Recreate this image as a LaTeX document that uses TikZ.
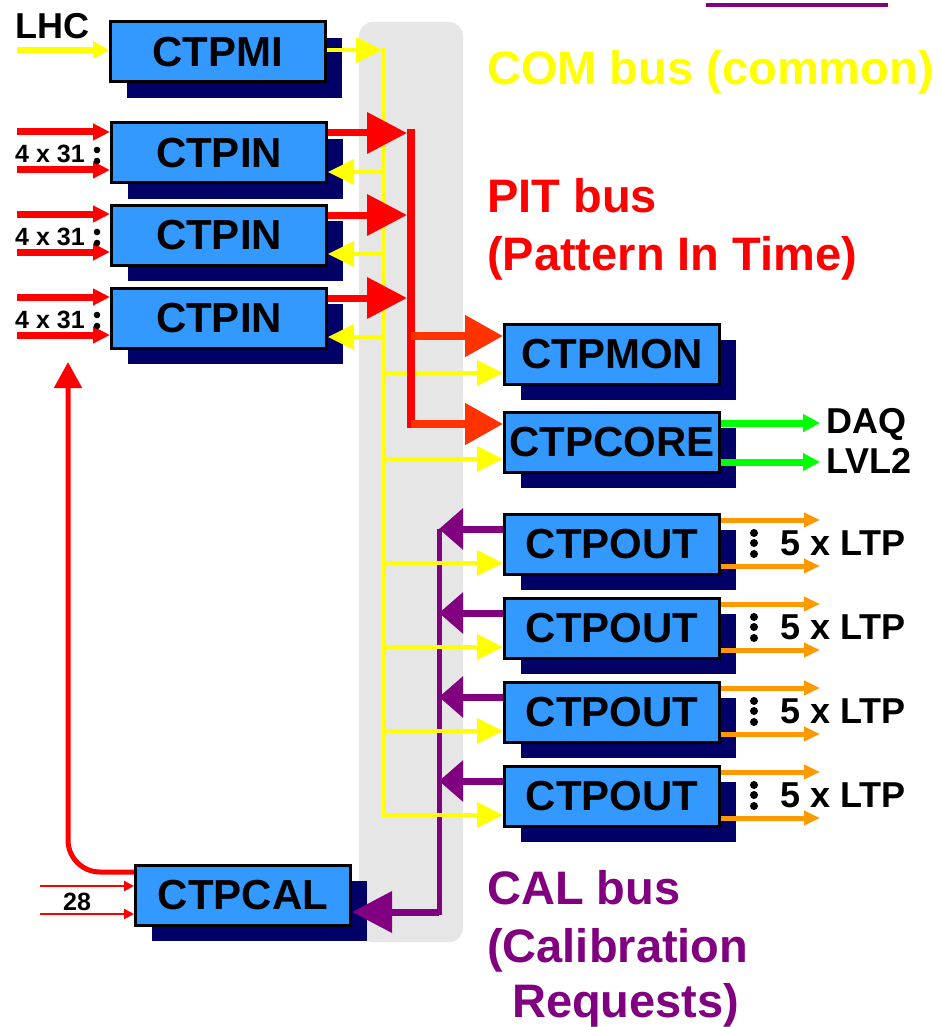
\documentclass[tikz,border=0pt]{standalone}
\usepackage{fontspec}
\setmainfont{Liberation Sans}
\usetikzlibrary{arrows.meta,shadows}

\definecolor{busgray}{HTML}{E6E6E6}
\definecolor{boxblue}{HTML}{3399FF}
\definecolor{shadenavy}{HTML}{000066}
\definecolor{comyellow}{HTML}{FFFF00}
\definecolor{pitred}{HTML}{FF0000}
\definecolor{feedred}{HTML}{FF3300}
\definecolor{calpurple}{HTML}{800080}
\definecolor{daqgreen}{HTML}{00FF00}
\definecolor{ltporange}{HTML}{FF9900}

\tikzset{
  unit/.style={draw=black, line width=3pt, fill=boxblue,
    minimum width=215pt, minimum height=60pt, inner sep=0pt,
    font=\fontsize{42}{42}\selectfont\bfseries,
    general shadow={fill=shadenavy, shadow xshift=16pt, shadow yshift=-16pt}},
  tag/.style={inner sep=0pt, anchor=base west, font=\fontsize{36}{36}\selectfont\bfseries},
  smalltag/.style={inner sep=0pt, anchor=base west, font=\fontsize{25}{25}\selectfont\bfseries},
  buslabel/.style={inner sep=0pt, anchor=base west, font=\fontsize{47}{47}\selectfont\bfseries},
  combus/.style={comyellow, line width=4pt},
  comlink/.style={comyellow, line width=4pt, -{Triangle[length=26pt,width=25pt]}},
  lhcin/.style={comyellow, line width=6pt, -{Triangle[length=16pt,width=17pt]}},
  pitin/.style={pitred, line width=7pt, -{Triangle[length=17pt,width=16pt]}},
  pitout/.style={pitred, line width=7pt, -{Triangle[length=40pt,width=40pt]}},
  pitbus/.style={pitred, line width=8pt},
  pitfeed/.style={feedred, line width=8pt, -{Triangle[length=38pt,width=40pt]}},
  calbus/.style={calpurple, line width=5pt},
  callink/.style={calpurple, line width=7pt, -{Triangle[length=24pt,width=40pt]}},
  calfeed/.style={calpurple, line width=7pt, -{Triangle[length=40pt,width=40pt]}},
  calin/.style={pitred, line width=2.5pt, -{Triangle[length=10pt,width=10pt]}},
  calret/.style={pitred, line width=5pt, rounded corners=32pt, -{Triangle[length=26pt,width=27pt]}},
  daqout/.style={daqgreen, line width=7pt, -{Triangle[length=17pt,width=17pt]}},
  ltpout/.style={ltporange, line width=5pt, -{Triangle[length=16pt,width=14pt]}},
}

\begin{document}
\begin{tikzpicture}[x=1pt,y=-1pt]
\useasboundingbox (0,0) rectangle (941,1027);
\fill[white] (0,0) rectangle (941,1027);

% backplane band carrying the buses
\fill[busgray, rounded corners=14pt] (359,22) rectangle (463,942);
\draw[calpurple, line width=4pt] (706,5) -- (888,5);

% boards
\node[unit] (ctpmi)   at (218,52)  {CTPMI};
\node[unit] (ctpin1)  at (219,153) {CTPIN};
\node[unit] (ctpin2)  at (219,235) {CTPIN};
\node[unit] (ctpin3)  at (219,318) {CTPIN};
\node[unit] (ctpmon)  at (612,354) {CTPMON};
\node[unit] (ctpcore) at (612,442) {CTPCORE};
\node[unit] (ctpout1) at (612,544) {CTPOUT};
\node[unit] (ctpout2) at (612,628) {CTPOUT};
\node[unit] (ctpout3) at (612,712) {CTPOUT};
\node[unit] (ctpout4) at (612,796) {CTPOUT};
\node[unit] (ctpcal)  at (243,895) {CTPCAL};

% reference positions of buses and free ends
\coordinate (inx)    at (17,0);
\coordinate (lblx)   at (15,0);
\coordinate (calinx) at (40,0);
\coordinate (ybus)   at (384,0);
\coordinate (ytip)   at (382,0);
\coordinate (pitx)   at (411,0);
\coordinate (pittip) at (407,0);
\coordinate (pbus)   at (439,0);
\coordinate (outx)   at (820,0);
\coordinate (retend) at (68,362);

% attachment points
\foreach \i in {1,2,3} {
  \coordinate (inA\i) at ([yshift=21pt]ctpin\i.west);
  \coordinate (inB\i) at ([yshift=-17pt]ctpin\i.west);
  \coordinate (pit\i) at ([yshift=20pt]ctpin\i.east);
  \coordinate (com\i) at ([yshift=-19pt]ctpin\i.east);
}
\foreach \i in {1,...,4} {
  \coordinate (req\i)  at ([yshift=15pt]ctpout\i.west);
  \coordinate (cin\i)  at ([yshift=-19pt]ctpout\i.west);
  \coordinate (ltpA\i) at ([yshift=24pt]ctpout\i.east);
  \coordinate (ltpB\i) at ([yshift=-22pt]ctpout\i.east);
}
\coordinate (lhc)   at ([yshift=2pt]ctpmi.west);
\coordinate (miout) at ([yshift=2pt]ctpmi.east);
\coordinate (monP)  at ([yshift=18pt]ctpmon.west);
\coordinate (monC)  at ([yshift=-19pt]ctpmon.west);
\coordinate (corP)  at ([yshift=18pt]ctpcore.west);
\coordinate (corC)  at ([yshift=-17pt]ctpcore.west);
\coordinate (daq)   at ([yshift=19pt]ctpcore.east);
\coordinate (lvl)   at ([yshift=-20pt]ctpcore.east);
\coordinate (calA)  at ([yshift=9pt]ctpcal.west);
\coordinate (calB)  at ([yshift=-19pt]ctpcal.west);
\coordinate (calR)  at ([yshift=-17pt]ctpcal.east);
\coordinate (ret)   at ([yshift=23pt]ctpcal.west);

% CAL bus (calibration requests)
\draw[calbus] (req1 -| pbus) -- ([yshift=-3pt]calR -| pbus);
\foreach \i in {1,...,4}
  \draw[callink] (req\i) -- (req\i -| pbus);
\draw[calfeed] (calR -| pbus) -- (calR);

% COM bus (common)
\draw[lhcin] (lhc -| inx) -- (lhc);
\draw[combus] ([yshift=2pt]miout -| ybus) -- ([yshift=-2pt]cin4 -| ybus);
\draw[comlink] (miout) -- (miout -| ytip);
\foreach \i in {1,2,3}
  \draw[comlink] (com\i -| ybus) -- (com\i);
\draw[comlink] (monC -| ybus) -- (monC);
\draw[comlink] (corC -| ybus) -- (corC);
\foreach \i in {1,...,4}
  \draw[comlink] (cin\i -| ybus) -- (cin\i);

% PIT bus (pattern in time)
\draw[pitbus] ([yshift=4pt]pit1 -| pitx) -- ([yshift=-4pt]corP -| pitx);
\foreach \i in {1,2,3} {
  \draw[pitin] (inA\i -| inx) -- (inA\i);
  \draw[pitin] (inB\i -| inx) -- (inB\i);
  \draw[pitout] (pit\i) -- (pit\i -| pittip);
  \node[smalltag, yshift=-10pt] at (ctpin\i.west -| lblx) {4 x 31};
  \fill ([xshift=-13pt,yshift=3pt]ctpin\i.west) circle (3.3pt);
  \fill ([xshift=-13pt,yshift=-8pt]ctpin\i.west) circle (3.3pt);
}
\draw[pitfeed] (monP -| pitx) -- (monP);
\draw[pitfeed] (corP -| pitx) -- (corP);

% outputs
\draw[daqout] (daq) -- (daq -| outx);
\draw[daqout] (lvl) -- (lvl -| outx);
\node[tag] at ([xshift=6pt,yshift=-10pt]daq -| outx) {DAQ};
\node[tag] at ([xshift=6pt,yshift=-11pt]lvl -| outx) {LVL2};
\foreach \i in {1,...,4} {
  \draw[ltpout] (ltpA\i) -- (ltpA\i -| outx);
  \draw[ltpout] (ltpB\i) -- (ltpB\i -| outx);
  \foreach \d in {11,1,-10}
    \fill ([xshift=33pt,yshift=\d pt]ctpout\i.east) circle (4pt);
  \node[tag, xshift=59pt, yshift=-11pt] at (ctpout\i.east) {5 x LTP};
}

% calibration board
\draw[calin] (calA -| calinx) -- (calA);
\draw[calin] (calB -| calinx) -- (calB);
\node[smalltag] at (63,910) {28};
\draw[calret] (ret) -| (retend);

% labels
\node[tag] at (15,39) {LHC};
\node[buslabel, comyellow] at (487,85) {COM bus (common)};
\node[buslabel, pitred] at (487,212) {PIT bus};
\node[buslabel, pitred] at (487,270) {(Pattern In Time)};
\node[buslabel, calpurple] at (487,904) {CAL bus};
\node[buslabel, calpurple] at (487,962) {(Calibration};
\node[buslabel, calpurple] at (512,1017) {Requests)};
\end{tikzpicture}
\end{document}
